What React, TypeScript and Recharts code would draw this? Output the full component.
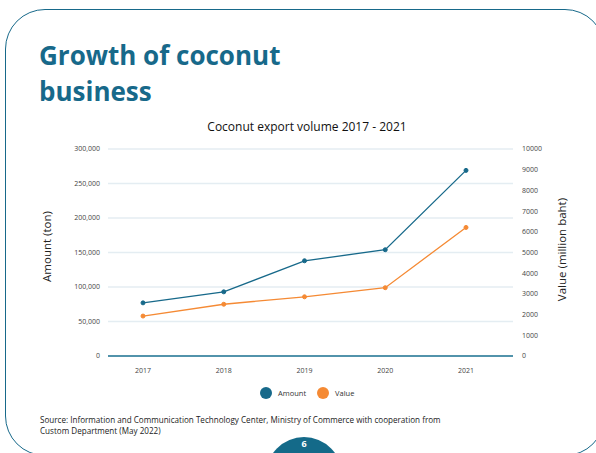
import React from "react";
import { LineChart, Line, XAxis, YAxis, CartesianGrid } from "recharts";

const years = ["2017", "2018", "2019", "2020", "2021"];
const amountTon = [77000, 93000, 138000, 154000, 269000];
const valueMillionBaht = [1930, 2500, 2860, 3300, 6210];
const leftTicks = [0, 50000, 100000, 150000, 200000, 250000, 300000];
const rightTicks = [0, 1000, 2000, 3000, 4000, 5000, 6000, 7000, 8000, 9000, 10000];

const TEAL = "#17698a";
const ORANGE = "#f58a34";
const FONT = "'Open Sans', sans-serif";

const data = years.map((y, i) => ({ year: y, amount: amountTon[i], value: valueMillionBaht[i] }));

const series = [
  { key: "amount", name: "Amount", color: TEAL },
  { key: "value", name: "Value", color: ORANGE },
];

function AxisTitle({ viewBox, text, dx, dy }: any) {
  const cx = viewBox.x + dx;
  const cy = viewBox.y + viewBox.height / 2 + dy;
  return (
    <text x={cx} y={cy} transform={`rotate(-90 ${cx} ${cy})`} textAnchor="middle" dominantBaseline="central" fontSize={11.5} fill="#222" fontFamily={FONT}>
      {text}
    </text>
  );
}

export default function App() {
  return (
    <div style={{ position: "absolute", left: 0, top: 0, width: 596, height: 453, overflow: "hidden", background: "#fff", fontFamily: FONT }}>
      <div style={{ position: "absolute", left: 5, top: 9, width: 600, height: 447, border: `1px solid ${TEAL}`, borderRadius: 40, boxSizing: "border-box" }} />

      <div style={{ position: "absolute", left: 39, top: 37, fontSize: 26, fontWeight: 700, color: TEAL, lineHeight: "36px" }}>
        Growth of coconut
        <br />
        business
      </div>

      <div style={{ position: "absolute", left: 0, width: 614, top: 118, textAlign: "center", fontSize: 12, color: "#111" }}>
        Coconut export volume 2017 - 2021
      </div>

      <div style={{ position: "absolute", left: 0, top: 0 }}>
        <LineChart width={596} height={453} data={data} margin={{ top: 149, right: 23, bottom: 67, left: 48 }}>
          <CartesianGrid yAxisId="left" vertical={false} stroke="#e4edf2" strokeWidth={1.5} />
          <XAxis
            dataKey="year"
            height={30}
            padding={{ left: 35, right: 47 }}
            axisLine={{ stroke: "#1f7392", strokeWidth: 1.5 }}
            tickLine={false}
            tickMargin={6}
            tick={{ fill: "#444", fontSize: 7, fontFamily: FONT }}
          />
          <YAxis
            yAxisId="left"
            width={60}
            domain={[0, 300000]}
            ticks={leftTicks}
            axisLine={false}
            tickLine={false}
            tickFormatter={(v: number) => v.toLocaleString("en-US")}
            tick={{ fill: "#444", fontSize: 7, fontFamily: FONT }}
            label={(p: any) => <AxisTitle {...p} text="Amount (ton)" dx={-1.5} dy={-6} />}
          />
          <YAxis
            yAxisId="right"
            orientation="right"
            width={60}
            domain={[0, 10000]}
            ticks={rightTicks}
            axisLine={false}
            tickLine={false}
            tickMargin={3}
            tick={{ fill: "#444", fontSize: 7, fontFamily: FONT, textAnchor: "start" }}
            label={(p: any) => <AxisTitle {...p} text="Value (million baht)" dx={48} dy={-3} />}
          />
          <Line
            yAxisId="left"
            dataKey="amount"
            stroke={TEAL}
            strokeWidth={1.3}
            dot={{ r: 2, fill: TEAL, stroke: TEAL, strokeWidth: 1 }}
            isAnimationActive={false}
          />
          <Line
            yAxisId="right"
            dataKey="value"
            stroke={ORANGE}
            strokeWidth={1.3}
            dot={{ r: 2, fill: ORANGE, stroke: ORANGE, strokeWidth: 1 }}
            isAnimationActive={false}
          />
        </LineChart>
      </div>

      <div style={{ position: "absolute", left: 260, top: 387, display: "flex", alignItems: "center", fontSize: 7.5, color: "#333" }}>
        {series.map((s, i) => (
          <div key={s.key} style={{ display: "flex", alignItems: "center", marginRight: i === 0 ? 11 : 0 }}>
            <span style={{ width: 12, height: 12, borderRadius: 6, background: s.color, display: "inline-block", marginRight: 6 }} />
            <span>{s.name}</span>
          </div>
        ))}
      </div>

      <div style={{ position: "absolute", left: 40, top: 414, fontSize: 8.1, color: "#222", lineHeight: "11px" }}>
        Source: Information and Communication Technology Center, Ministry of Commerce with cooperation from
        <br />
        Custom Department (May 2022)
      </div>

      <div style={{ position: "absolute", left: 266, top: 437, width: 76, height: 76, borderRadius: 38, background: "#146a89", color: "#fff", fontSize: 9, fontWeight: 700, textAlign: "center", lineHeight: "14px" }}>
        6
      </div>
    </div>
  );
}
